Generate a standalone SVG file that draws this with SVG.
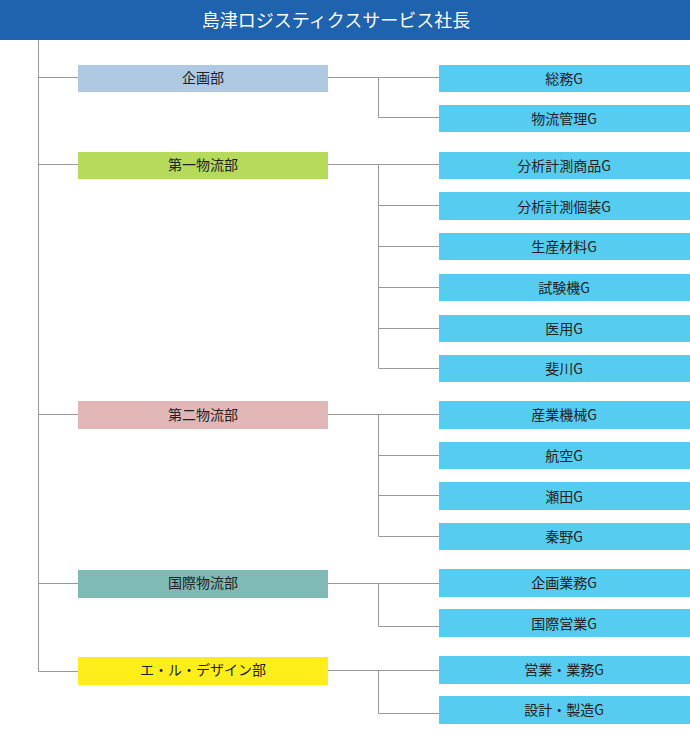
<svg xmlns="http://www.w3.org/2000/svg" width="690" height="750" viewBox="0 0 690 750">
<style>
text{font-family:"Noto Sans CJK JP","Noto Sans",sans-serif;font-size:14px;fill:#222;text-anchor:middle;dominant-baseline:central}
.g rect{fill:#57CCF1}
.c path{stroke:#999;stroke-width:1;fill:none}
#title text{fill:#fff;font-size:18px}
</style>
<rect width="690" height="750" fill="#fff"/>
<g id="title"><rect x="0" y="0" width="690" height="40" fill="#1F63AF"/><text x="336" y="19">島津ロジスティクスサービス社長</text></g>
<g class="c" id="connectors">
<path d="M38.5 40V671.5"/>
<path d="M38.5 77.5H78M328 77.5H439M378.5 77.5V117.5H439"/>
<path d="M38.5 164.5H78M328 164.5H439M378.5 164.5V368.5H439M378.5 205.5H439M378.5 246.5H439M378.5 287.5H439M378.5 328.5H439"/>
<path d="M38.5 414.5H78M328 414.5H439M378.5 414.5V536.5H439M378.5 455.5H439M378.5 495.5H439"/>
<path d="M38.5 583.5H78M328 583.5H439M378.5 583.5V626.5H439"/>
<path d="M38.5 671.5H78M328 670.5H439M378.5 670.5V713.5H439"/>
</g>
<g id="d1"><rect x="78" y="65" width="250" height="27" fill="#AFC9E3"/><text x="203" y="77">企画部</text></g>
<g id="d2"><rect x="78" y="152" width="250" height="27" fill="#B6DA5A"/><text x="203" y="164">第一物流部</text></g>
<g id="d3"><rect x="78" y="401" width="250" height="28" fill="#E0B7B6"/><text x="203" y="413.5">第二物流部</text></g>
<g id="d4"><rect x="78" y="570" width="250" height="28" fill="#7FBAB5"/><text x="203" y="582">国際物流部</text></g>
<g id="d5"><rect x="78" y="657" width="250" height="28" fill="#FFEE1C"/><text x="203" y="669">エ・ル・デザイン部</text></g>
<g class="g" id="g1"><rect x="439" y="65" width="251" height="27"/><text x="564" y="77.5">総務G</text></g>
<g class="g" id="g2"><rect x="439" y="105" width="251" height="27"/><text x="564" y="117.5">物流管理G</text></g>
<g class="g" id="g3"><rect x="439" y="152" width="251" height="27"/><text x="564" y="164.5">分析計測商品G</text></g>
<g class="g" id="g4"><rect x="439" y="192" width="251" height="28"/><text x="564" y="205.5">分析計測個装G</text></g>
<g class="g" id="g5"><rect x="439" y="233" width="251" height="27"/><text x="564" y="245.5">生産材料G</text></g>
<g class="g" id="g6"><rect x="439" y="274" width="251" height="27"/><text x="564" y="286.5">試験機G</text></g>
<g class="g" id="g7"><rect x="439" y="315" width="251" height="27"/><text x="564" y="327.5">医用G</text></g>
<g class="g" id="g8"><rect x="439" y="355" width="251" height="27"/><text x="564" y="367.5">斐川G</text></g>
<g class="g" id="g9"><rect x="439" y="401" width="251" height="28"/><text x="564" y="413.5">産業機械G</text></g>
<g class="g" id="g10"><rect x="439" y="442" width="251" height="27"/><text x="564" y="454.5">航空G</text></g>
<g class="g" id="g11"><rect x="439" y="482" width="251" height="28"/><text x="564" y="495.5">瀬田G</text></g>
<g class="g" id="g12"><rect x="439" y="523" width="251" height="27"/><text x="564" y="535.5">秦野G</text></g>
<g class="g" id="g13"><rect x="439" y="569" width="251" height="28"/><text x="564" y="581.5">企画業務G</text></g>
<g class="g" id="g14"><rect x="439" y="609" width="251" height="28"/><text x="564" y="622.5">国際営業G</text></g>
<g class="g" id="g15"><rect x="439" y="656" width="251" height="28"/><text x="564" y="668.5">営業・業務G</text></g>
<g class="g" id="g16"><rect x="439" y="696" width="251" height="28"/><text x="564" y="708.5">設計・製造G</text></g>
</svg>
